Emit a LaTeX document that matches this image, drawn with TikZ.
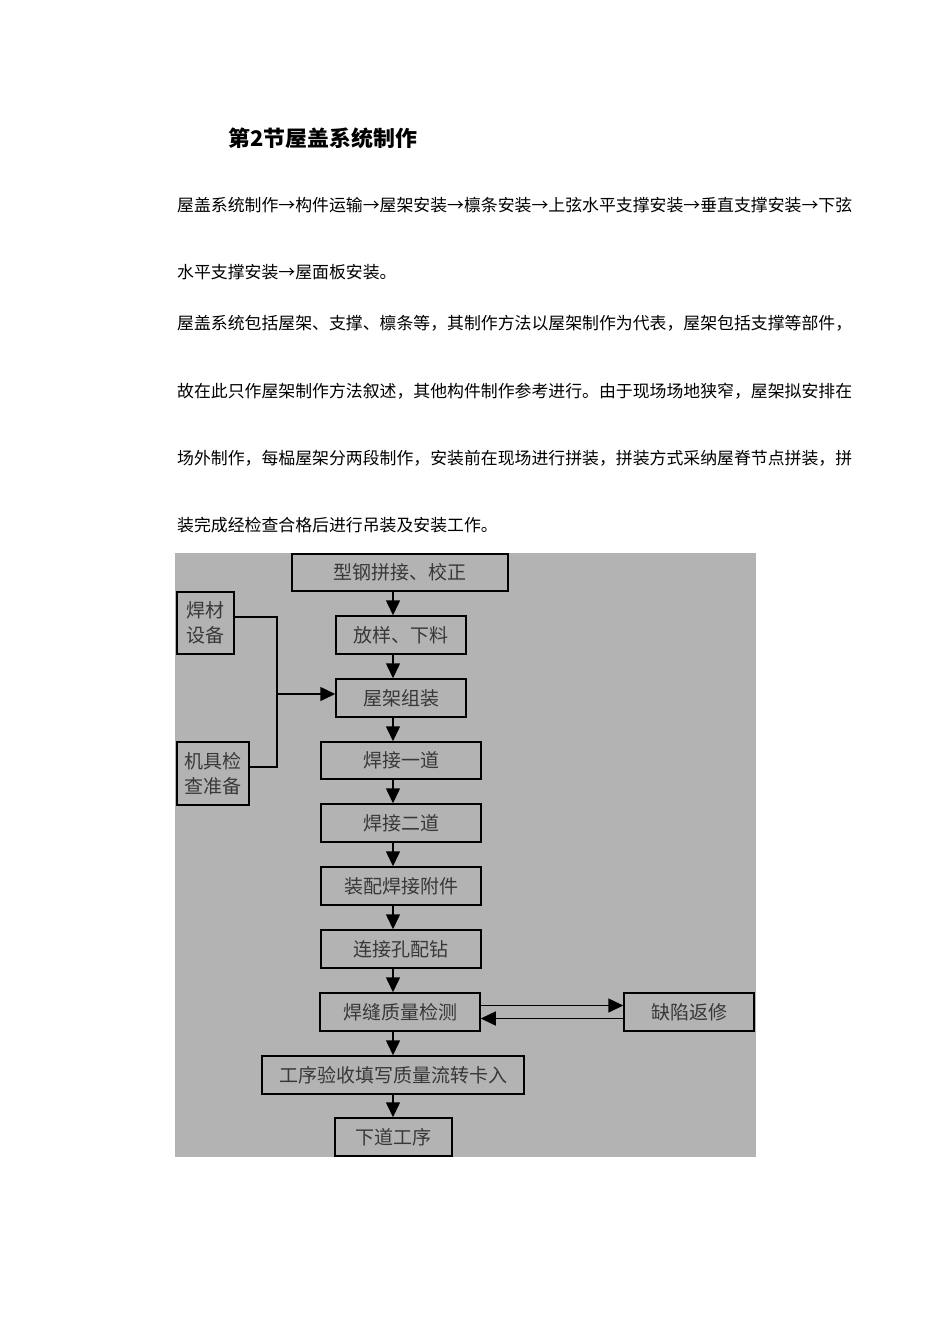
\documentclass[tikz,border=0pt]{standalone}
\usepackage{fontspec}
\newfontfamily\cjk{Noto Sans CJK SC}
\usetikzlibrary{arrows.meta}
\definecolor{bg}{HTML}{B3B3B3}
\definecolor{boxtext}{HTML}{383838}
\begin{document}
\begin{tikzpicture}[x=1pt,y=-1pt,
  box/.style={draw=black,line width=1.5pt,fill=bg,inner sep=0pt,
    font=\cjk\fontsize{19}{25}\selectfont,text=boxtext,align=center},
  arr/.style={line width=1.5pt,-{Triangle[length=15pt,width=14pt]}},
  conn/.style={line width=1.5pt},
  body/.style={anchor=west,inner sep=0pt,font=\cjk\fontsize{16.875}{20}\selectfont}]
\fill[white] (0,0) rectangle (950,1344);
\useasboundingbox (0,0) rectangle (950,1344);

% title and text
\node[anchor=west,inner sep=0pt,font=\cjk\bfseries\fontsize{21.5}{25}\selectfont] (title) at (228,138) {\scalebox{1.02}[1]{第2节屋盖系统制作}};
\node[body] (l1) at (177,205) {屋盖系统制作→构件运输→屋架安装→檩条安装→上弦水平支撑安装→垂直支撑安装→下弦};
\node[body] (l2) at (177,272) {水平支撑安装→屋面板安装。};
\node[body] (l3) at (177,323) {屋盖系统包括屋架、支撑、檩条等，其制作方法以屋架制作为代表，屋架包括支撑等部件，};
\node[body] (l4) at (177,391) {故在此只作屋架制作方法叙述，其他构件制作参考进行。由于现场场地狭窄，屋架拟安排在};
\node[body] (l5) at (177,458) {场外制作，每榀屋架分两段制作，安装前在现场进行拼装，拼装方式采纳屋脊节点拼装，拼};
\node[body] (l6) at (177,525) {装完成经检查合格后进行吊装及安装工作。};

% background
\fill[bg] (175,553) rectangle (756,1157);

% boxes
\node[box,minimum width=216pt,minimum height=37pt] (b1) at (400,572.5) {型钢拼接、校正};
\node[box,minimum width=130pt,minimum height=38pt] (b2) at (401,635) {放样、下料};
\node[box,minimum width=130pt,minimum height=38pt] (b3) at (401,698) {屋架组装};
\node[box,minimum width=160pt,minimum height=37pt] (b4) at (401,760.5) {焊接一道};
\node[box,minimum width=160pt,minimum height=38pt] (b5) at (401,823) {焊接二道};
\node[box,minimum width=160pt,minimum height=38pt] (b6) at (401,886) {装配焊接附件};
\node[box,minimum width=160pt,minimum height=38pt] (b7) at (401,949) {连接孔配钻};
\node[box,minimum width=160pt,minimum height=38pt] (b8) at (400,1012) {焊缝质量检测};
\node[box,minimum width=130pt,minimum height=38pt] (b9) at (689,1012) {缺陷返修};
\node[box,minimum width=262pt,minimum height=38pt] (b10) at (393,1075) {工序验收填写质量流转卡入};
\node[box,minimum width=117pt,minimum height=38pt] (b11) at (393.5,1137) {下道工序};
\node[box,minimum width=57pt,minimum height=62pt] (s1) at (205.5,623) {焊材\\设备};
\node[box,minimum width=72pt,minimum height=63pt] (s2) at (213,773.5) {机具检\\查准备};

% connectors
\coordinate (ax) at (393,0);
\draw[arr] (b1.south -| ax) -- (b2.north -| ax);
\draw[arr] (b2.south -| ax) -- (b3.north -| ax);
\draw[arr] (b3.south -| ax) -- (b4.north -| ax);
\draw[arr] (b4.south -| ax) -- (b5.north -| ax);
\draw[arr] (b5.south -| ax) -- (b6.north -| ax);
\draw[arr] (b6.south -| ax) -- (b7.north -| ax);
\draw[arr] (b7.south -| ax) -- (b8.north -| ax);
\draw[arr] (b8.south -| ax) -- (b10.north -| ax);
\draw[arr] (b10.south -| ax) -- (b11.north -| ax);
\draw[arr] ([yshift=6.5pt]b8.east) -- ([yshift=6.5pt]b9.west);
\draw[arr] ([yshift=-6.5pt]b9.west) -- ([yshift=-6.5pt]b8.east);
\coordinate (j) at (277,694);
\draw[conn] ([yshift=6pt]s1.east) -| (j) |- ([yshift=6.5pt]s2.east);
\draw[arr] (j) -- (j -| b3.west);
\end{tikzpicture}
\end{document}
